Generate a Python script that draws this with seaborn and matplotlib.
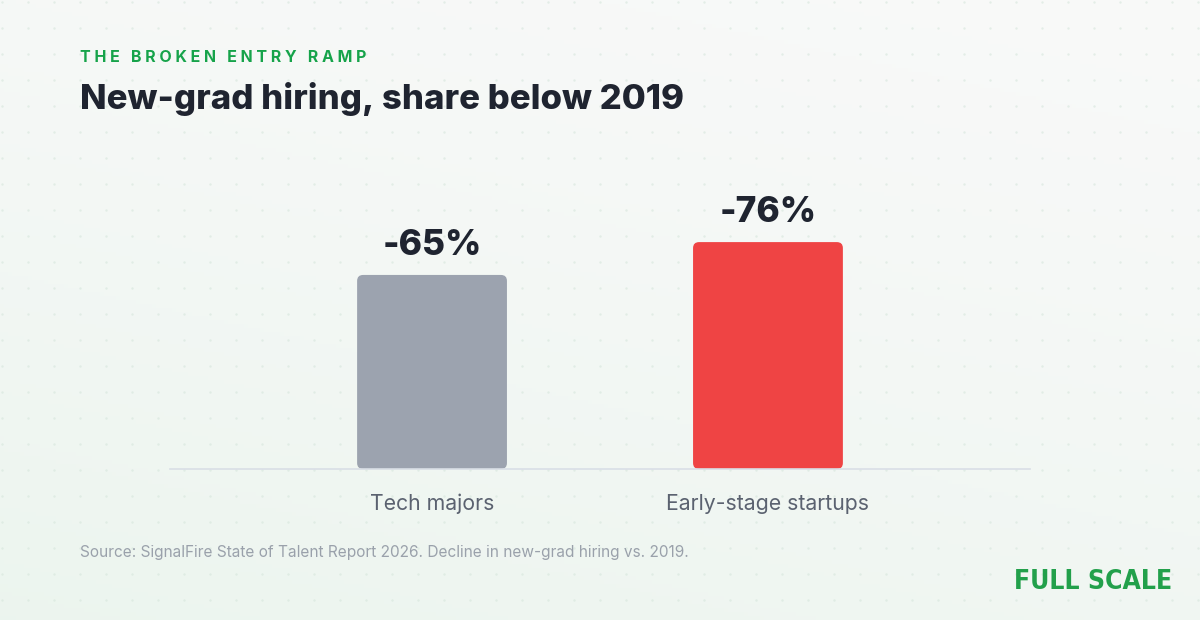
import numpy as np
import pandas as pd
import matplotlib
matplotlib.use("Agg")
import matplotlib.pyplot as plt
import seaborn as sns
from matplotlib.patches import FancyBboxPatch

categories = ["Tech majors", "Early-stage startups"]
values = [65, 76]
labels = ["-65%", "-76%"]
colors = ["#9ca3af", "#ef4444"]

sns.set_theme(style="white")
plt.rcParams['font.family'] = ['Inter', 'DejaVu Sans']

fig = plt.figure(figsize=(12, 6.2), dpi=100)
bg = fig.add_axes([0, 0, 1, 1])
bg.set_xlim(0, 1200); bg.set_ylim(620, 0); bg.axis("off")
yy, xx = np.mgrid[0:620:4, 0:1200:4]
t = np.clip((yy / 620) * 0.7 + (1 - xx / 1200) * 0.3, 0, 1)
c0 = np.array([0.975, 0.978, 0.976]); c1 = np.array([0.925, 0.960, 0.935])
img = c0 + (c1 - c0) * t[..., None] ** 1.3
bg.imshow(img, extent=[0, 1200, 620, 0], aspect="auto", zorder=0)
gx, gy = np.meshgrid(np.arange(2, 1200, 26), np.arange(2, 620, 26))
bg.scatter(gx.ravel(), gy.ravel(), s=3, color="#d6e6dc", alpha=0.6, zorder=1, linewidths=0)

ax = fig.add_axes([170/1200, (620-469)/620, 860/1200, 289/620])
ax.patch.set_alpha(0)
df = pd.DataFrame({"cat": categories, "val": values})
sns.barplot(data=df, x="cat", y="val", hue="cat", palette=colors, width=0.446,
            legend=False, ax=ax, saturation=1)
ax.set_xlim(-0.78, 1.78); ax.set_ylim(0, 96.8)
for p, lab in zip(list(ax.patches), labels):
    x0, w, h, fc = p.get_x(), p.get_width(), p.get_height(), p.get_facecolor()
    p.set_visible(False)
    ax.add_patch(FancyBboxPatch((x0, 0), w, h, boxstyle="round,pad=0,rounding_size=0.018",
                                mutation_aspect=111, facecolor=fc, edgecolor="none"))
    ax.text(x0 + w/2, h + 4.5, lab, ha="center", va="bottom", fontsize=25.5,
            fontweight="heavy", color="#1f2430")
for s in ["top", "right", "left"]:
    ax.spines[s].set_visible(False)
ax.spines["bottom"].set_color("#d9dee6"); ax.spines["bottom"].set_linewidth(1.2)
ax.set_yticks([]); ax.set_xlabel(""); ax.set_ylabel("")
ax.tick_params(axis="x", length=0, pad=18, labelsize=15.3, labelcolor="#5b6270")

fig.text(80/1200, 1-58/620, "T H E   B R O K E N   E N T R Y   R A M P", fontsize=11.5,
         fontweight="bold", color="#16a34a", va="center")
fig.text(80/1200, 1-99/620, "New-grad hiring, share below 2019", fontsize=25,
         fontweight="heavy", color="#1f2430", va="center")
fig.text(80/1200, 1-553/620, "Source: SignalFire State of Talent Report 2026. Decline in new-grad hiring vs. 2019.",
         fontsize=11.1, color="#9aa1ab", va="center")
fig.text(1172/1200, 1-582/620, "FULL SCALE", fontsize=19, fontweight="bold",
         color="#22a04b", ha="right", va="center", family=["DejaVu Sans"], fontstretch="condensed")
fig.savefig("out.png", dpi=100)
